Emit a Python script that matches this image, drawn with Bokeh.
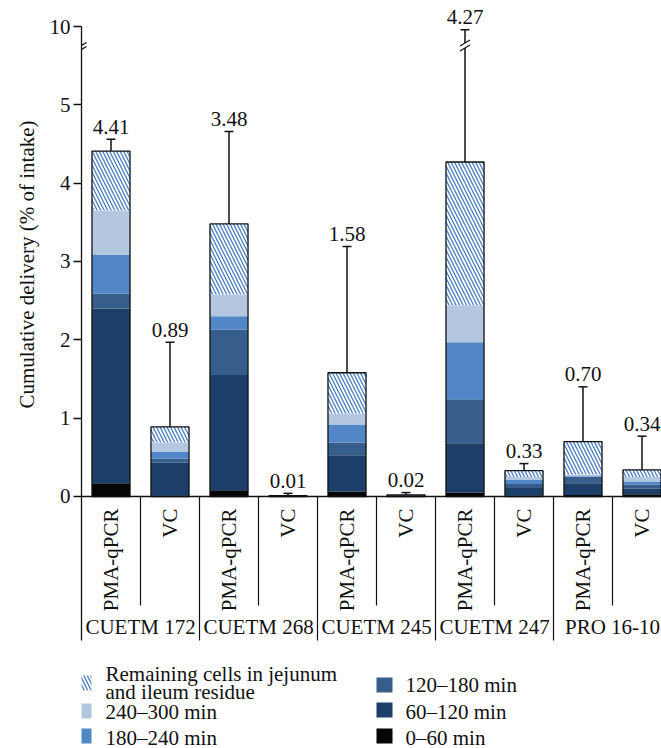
import math
from bokeh.plotting import figure
from bokeh.models import ColumnDataSource, FixedTicker, Arrow, Range1d, BoxAnnotation, Title
from bokeh.layouts import column
from bokeh.core.properties import value
from bokeh.embed import file_html
from bokeh.resources import INLINE

# ---------------------------------------------------------------- data
strains = ["CUETM 172", "CUETM 268", "CUETM 245", "CUETM 247", "PRO 16-10"]
methods = ["PMA-qPCR", "VC"]

# one bar per strain x method, in plotting order
totals = [4.41, 0.89, 3.48, 0.01, 1.58, 0.02, 4.27, 0.33, 0.70, 0.34]
err_hi = [4.56, 1.97, 4.66, 0.04, 3.19, 0.05, 9.80, 0.42, 1.40, 0.77]

seg_0_60 = [0.17, 0.01, 0.08, 0.00, 0.065, 0.000, 0.05, 0.01, 0.02, 0.03]
seg_60_120 = [2.23, 0.42, 1.47, 0.01, 0.46, 0.010, 0.63, 0.10, 0.15, 0.07]
seg_120_180 = [0.19, 0.055, 0.58, 0.00, 0.165, 0.005, 0.56, 0.05, 0.08, 0.05]
seg_180_240 = [0.50, 0.09, 0.17, 0.00, 0.23, 0.005, 0.73, 0.05, 0.01, 0.04]
seg_240_300 = [0.56, 0.115, 0.28, 0.00, 0.14, 0.000, 0.47, 0.04, 0.02, 0.06]
seg_remaining = [0.76, 0.20, 0.90, 0.00, 0.52, 0.000, 1.83, 0.08, 0.42, 0.09]

y_ticks = [0, 1, 2, 3, 4, 5, 10]

legend_left = ["Remaining cells in jejunum\nand ileum residue", "240\u2013300 min", "180\u2013240 min"]
legend_right = ["120\u2013180 min", "60\u2013120 min", "0\u201360 min"]

# ---------------------------------------------------------------- style
FONT = "Liberation Serif"
FS = "21px"
INK = "#111111"
HATCH = "#4a7fc2"
C_0_60 = "#050505"
C_60_120 = "#1c3f6a"
C_120_180 = "#375e8b"
C_180_240 = "#5287c7"
C_240_300 = "#b4c7e0"

PX_PER_UNIT = 78.33   # vertical scale of the value axis
PX_PER_BAR = 59.0     # horizontal spacing of bars
BAR_W = 0.645
HATCH_KW = dict(hatch_pattern="left_diagonal_line", hatch_color=HATCH,
                hatch_scale=7, hatch_weight=1.3)
TABLE_BOTTOM = -144 / PX_PER_UNIT   # lowest end of the axis line / group dividers


def brk(v):
    """Broken value scale: linear up to 5, then 5..10 squeezed into one unit."""
    return v if v <= 5 else 5 + (v - 5) / 5.0


n = len(totals)
xs = [i + 1 for i in range(n)]

p = figure(width=661, height=660,
           x_range=Range1d(0.5, 0.5 + 580 / PX_PER_BAR),
           y_range=Range1d(-164 / PX_PER_UNIT, 6 + 26 / PX_PER_UNIT),
           x_axis_location=None, toolbar_location=None, output_backend="svg",
           min_border_left=81, min_border_right=0, min_border_top=0, min_border_bottom=0)
p.outline_line_color = None
p.xgrid.visible = False
p.ygrid.visible = False

# stacked bars
src = ColumnDataSource(dict(x=xs, s0=seg_0_60, s1=seg_60_120, s2=seg_120_180,
                            s3=seg_180_240, s4=seg_240_300, s5=seg_remaining))
rs = p.vbar_stack(["s0", "s1", "s2", "s3", "s4", "s5"], x="x", width=BAR_W, source=src,
                  fill_color=[C_0_60, C_60_120, C_120_180, C_180_240, C_240_300, "white"],
                  line_color=None)
for k, v in HATCH_KW.items():
    setattr(rs[-1].glyph, k, v)

# outline around each full bar
p.vbar(x=xs, width=BAR_W, top=totals, bottom=0, fill_color=None,
       line_color=INK, line_width=1.3)

# error bars (upper only)
cap = 4.5 / PX_PER_BAR
gap_lo, gap_hi = 5.725, 5.79
e_x0, e_y0, e_y1 = [], [], []
for xi, t, e in zip(xs, totals, err_hi):
    top = brk(e)
    if e > 5:
        e_x0 += [xi, xi]
        e_y0 += [t, gap_hi]
        e_y1 += [gap_lo, top]
    else:
        e_x0.append(xi)
        e_y0.append(t)
        e_y1.append(top)
p.segment(x0=e_x0, y0=e_y0, x1=e_x0, y1=e_y1, line_color=INK, line_width=1.5)
p.segment(x0=[xi - cap for xi in xs], y0=[brk(e) for e in err_hi],
          x1=[xi + cap for xi in xs], y1=[brk(e) for e in err_hi],
          line_color=INK, line_width=1.5)

# break marks on the long error bar
sl_dx, sl_dy = 5 / PX_PER_BAR, 3 / PX_PER_UNIT
for xi, e in zip(xs, err_hi):
    if e > 5:
        for yc in (gap_lo, gap_hi):
            p.segment(x0=[xi - sl_dx], y0=[yc - sl_dy], x1=[xi + sl_dx], y1=[yc + sl_dy],
                      line_color=INK, line_width=1.3)

# value labels above error bars
p.text(x=xs, y=[brk(e) + 12.5 / PX_PER_UNIT for e in err_hi],
       text=["%.2f" % t for t in totals], text_align="center", text_baseline="middle",
       text_font=value(FONT), text_font_size=FS, text_color=INK)

# value axis
ax = p.yaxis[0]
ax.ticker = FixedTicker(ticks=[brk(v) for v in y_ticks])
ax.major_label_overrides = {brk(v): str(v) for v in y_ticks}
ax.bounds = (TABLE_BOTTOM, brk(10))
ax.minor_tick_line_color = None
ax.major_tick_out = 8
ax.major_tick_in = 0
ax.major_tick_line_width = 1.3
ax.major_tick_line_color = INK
ax.axis_line_width = 1.3
ax.axis_line_color = INK
ax.major_label_standoff = 3
ax.major_label_text_font = FONT
ax.major_label_text_font_size = FS
ax.major_label_text_color = INK

# axis title as a side title, started a fixed distance above the frame bottom
p.add_layout(Title(text="Cumulative delivery (% of intake)", align="left", offset=252,
                   standoff=15, text_font=FONT, text_font_size=FS,
                   text_font_style="normal", text_color=INK), "left")

# axis break marks
for yc in (5.707, 5.758):
    p.add_layout(Arrow(end=None, x_start=0.5 - sl_dx, y_start=yc - sl_dy,
                       x_end=0.5 + sl_dx, y_end=yc + sl_dy, line_width=1.3, line_color=INK))

# baseline
p.segment(x0=[0.5], y0=[0], x1=[0.5 + 580 / PX_PER_BAR], y1=[0], line_color=INK, line_width=1.3)

# category table under the bars
sub_sep = [xs[i] + 0.5 for i in range(0, n, 2)]
grp_sep = [xs[i] + 0.5 for i in range(1, n - 1, 2)]
p.segment(x0=sub_sep, y0=[0] * len(sub_sep), x1=sub_sep, y1=[-109 / PX_PER_UNIT] * len(sub_sep),
          line_color=INK, line_width=1.2)
p.segment(x0=grp_sep, y0=[0] * len(grp_sep), x1=grp_sep, y1=[TABLE_BOTTOM] * len(grp_sep),
          line_color=INK, line_width=1.2)
p.text(x=xs, y=[-12 / PX_PER_UNIT] * n, text=[methods[i % 2] for i in range(n)],
       angle=math.pi / 2, text_align="right", text_baseline="middle",
       text_font=value(FONT), text_font_size=FS, text_color=INK)
p.text(x=[xs[2 * k] + 0.5 for k in range(len(strains))], y=[-131 / PX_PER_UNIT] * len(strains),
       text=strains, text_align="center", text_baseline="middle",
       text_font=value(FONT), text_font_size=FS, text_color=INK)

# ---------------------------------------------------------------- legend panel
# the frame of this panel lines up with the chart frame (starts at x = 81 px),
# so the x range is expressed in page pixels
lg = figure(width=661, height=88, x_range=Range1d(81, 661), y_range=Range1d(88, 0),
            x_axis_location=None, y_axis_location=None, toolbar_location=None,
            output_backend="svg", min_border=0)
lg.outline_line_color = None
lg.xgrid.visible = False
lg.ygrid.visible = False

left_top = [15, 43, 68]
right_top = [17, 42, 68]
left_fill = ["white", C_240_300, C_180_240]
right_fill = [C_120_180, C_60_120, C_0_60]

for i, (t, c) in enumerate(zip(left_top, left_fill)):
    kw = HATCH_KW if i == 0 else {}
    lg.add_layout(BoxAnnotation(left=75, right=91, top=t, bottom=t + 15, fill_color=c,
                                fill_alpha=1, line_color=None, **kw))
for t, c in zip(right_top, right_fill):
    lg.add_layout(BoxAnnotation(left=376, right=392, top=t, bottom=t + 15, fill_color=c,
                                fill_alpha=1, line_color=None))

left_lines = legend_left[0].split("\n") + legend_left[1:]
lg.text(x=[105] * 4, y=[13, 31, 51, 77], text=left_lines, text_baseline="middle",
        text_font=value(FONT), text_font_size=FS, text_color=INK)
lg.text(x=[405] * 3, y=[24, 51, 77], text=legend_right, text_baseline="middle",
        text_font=value(FONT), text_font_size=FS, text_color=INK)

layout = column(p, lg, spacing=0)
open("out.html", "w").write(file_html(layout, INLINE))
